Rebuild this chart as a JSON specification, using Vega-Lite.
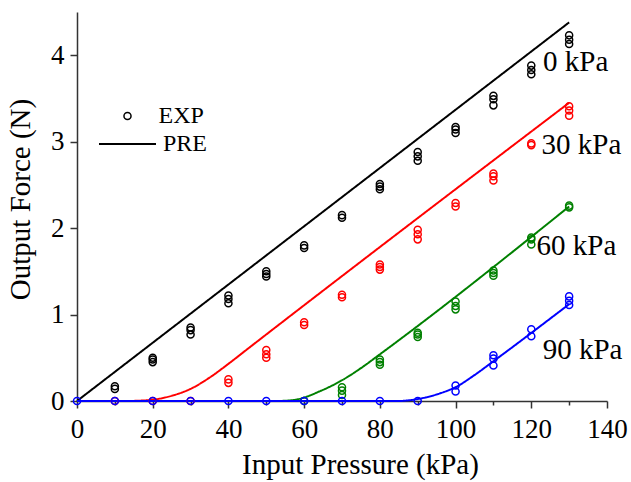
{
  "$schema": "https://vega.github.io/schema/vega-lite/v6.json",
  "width": 530,
  "height": 389,
  "autosize": {"type": "none"},
  "padding": {"left": 77, "top": 12, "right": 24, "bottom": 81},
  "background": "white",
  "config": {
    "view": {"stroke": null},
    "axis": {
      "labelFont": "Liberation Serif",
      "titleFont": "Liberation Serif",
      "labelFontSize": 27,
      "titleFontSize": 29,
      "titleFontWeight": "normal",
      "labelColor": "black",
      "titleColor": "black",
      "domainColor": "#333333",
      "domainWidth": 1.5,
      "tickColor": "#333333",
      "tickWidth": 1.5,
      "grid": false,
      "labelOverlap": false,
      "labelFlush": false
    }
  },
  "datasets": {
    "pre": [
      {"series": "0 kPa", "kind": "PRE", "p": 0, "f": 0},
      {"series": "0 kPa", "kind": "PRE", "p": 130, "f": 4.38},
      {"series": "30 kPa", "kind": "PRE", "p": 14, "f": 0},
      {"series": "30 kPa", "kind": "PRE", "p": 20, "f": 0.015},
      {"series": "30 kPa", "kind": "PRE", "p": 25, "f": 0.06},
      {"series": "30 kPa", "kind": "PRE", "p": 30, "f": 0.14},
      {"series": "30 kPa", "kind": "PRE", "p": 35, "f": 0.27},
      {"series": "30 kPa", "kind": "PRE", "p": 40, "f": 0.43},
      {"series": "30 kPa", "kind": "PRE", "p": 45, "f": 0.6},
      {"series": "30 kPa", "kind": "PRE", "p": 130, "f": 3.45},
      {"series": "60 kPa", "kind": "PRE", "p": 53, "f": 0},
      {"series": "60 kPa", "kind": "PRE", "p": 57, "f": 0.01},
      {"series": "60 kPa", "kind": "PRE", "p": 60, "f": 0.04},
      {"series": "60 kPa", "kind": "PRE", "p": 64, "f": 0.11},
      {"series": "60 kPa", "kind": "PRE", "p": 67, "f": 0.17},
      {"series": "60 kPa", "kind": "PRE", "p": 70, "f": 0.24},
      {"series": "60 kPa", "kind": "PRE", "p": 75, "f": 0.38},
      {"series": "60 kPa", "kind": "PRE", "p": 80, "f": 0.54},
      {"series": "60 kPa", "kind": "PRE", "p": 130, "f": 2.25},
      {"series": "90 kPa", "kind": "PRE", "p": 0, "f": 0},
      {"series": "90 kPa", "kind": "PRE", "p": 85, "f": 0},
      {"series": "90 kPa", "kind": "PRE", "p": 88, "f": 0.01},
      {"series": "90 kPa", "kind": "PRE", "p": 92, "f": 0.04},
      {"series": "90 kPa", "kind": "PRE", "p": 96, "f": 0.09},
      {"series": "90 kPa", "kind": "PRE", "p": 100, "f": 0.16},
      {"series": "90 kPa", "kind": "PRE", "p": 105, "f": 0.3},
      {"series": "90 kPa", "kind": "PRE", "p": 110, "f": 0.46},
      {"series": "90 kPa", "kind": "PRE", "p": 130, "f": 1.12}
    ],
    "exp": [
      {"series": "0 kPa", "kind": "EXP", "p": 10, "f": 0.14},
      {"series": "0 kPa", "kind": "EXP", "p": 10, "f": 0.17},
      {"series": "0 kPa", "kind": "EXP", "p": 20, "f": 0.45},
      {"series": "0 kPa", "kind": "EXP", "p": 20, "f": 0.48},
      {"series": "0 kPa", "kind": "EXP", "p": 20, "f": 0.5},
      {"series": "0 kPa", "kind": "EXP", "p": 30, "f": 0.77},
      {"series": "0 kPa", "kind": "EXP", "p": 30, "f": 0.82},
      {"series": "0 kPa", "kind": "EXP", "p": 30, "f": 0.85},
      {"series": "0 kPa", "kind": "EXP", "p": 40, "f": 1.13},
      {"series": "0 kPa", "kind": "EXP", "p": 40, "f": 1.18},
      {"series": "0 kPa", "kind": "EXP", "p": 40, "f": 1.22},
      {"series": "0 kPa", "kind": "EXP", "p": 50, "f": 1.44},
      {"series": "0 kPa", "kind": "EXP", "p": 50, "f": 1.47},
      {"series": "0 kPa", "kind": "EXP", "p": 50, "f": 1.5},
      {"series": "0 kPa", "kind": "EXP", "p": 60, "f": 1.77},
      {"series": "0 kPa", "kind": "EXP", "p": 60, "f": 1.8},
      {"series": "0 kPa", "kind": "EXP", "p": 70, "f": 2.12},
      {"series": "0 kPa", "kind": "EXP", "p": 70, "f": 2.15},
      {"series": "0 kPa", "kind": "EXP", "p": 80, "f": 2.45},
      {"series": "0 kPa", "kind": "EXP", "p": 80, "f": 2.48},
      {"series": "0 kPa", "kind": "EXP", "p": 80, "f": 2.51},
      {"series": "0 kPa", "kind": "EXP", "p": 90, "f": 2.78},
      {"series": "0 kPa", "kind": "EXP", "p": 90, "f": 2.83},
      {"series": "0 kPa", "kind": "EXP", "p": 90, "f": 2.88},
      {"series": "0 kPa", "kind": "EXP", "p": 100, "f": 3.1},
      {"series": "0 kPa", "kind": "EXP", "p": 100, "f": 3.14},
      {"series": "0 kPa", "kind": "EXP", "p": 100, "f": 3.17},
      {"series": "0 kPa", "kind": "EXP", "p": 110, "f": 3.42},
      {"series": "0 kPa", "kind": "EXP", "p": 110, "f": 3.49},
      {"series": "0 kPa", "kind": "EXP", "p": 110, "f": 3.53},
      {"series": "0 kPa", "kind": "EXP", "p": 120, "f": 3.78},
      {"series": "0 kPa", "kind": "EXP", "p": 120, "f": 3.83},
      {"series": "0 kPa", "kind": "EXP", "p": 120, "f": 3.88},
      {"series": "0 kPa", "kind": "EXP", "p": 130, "f": 4.13},
      {"series": "0 kPa", "kind": "EXP", "p": 130, "f": 4.18},
      {"series": "0 kPa", "kind": "EXP", "p": 130, "f": 4.23},
      {"series": "30 kPa", "kind": "EXP", "p": 10, "f": 0},
      {"series": "30 kPa", "kind": "EXP", "p": 20, "f": 0},
      {"series": "30 kPa", "kind": "EXP", "p": 30, "f": 0},
      {"series": "30 kPa", "kind": "EXP", "p": 40, "f": 0.21},
      {"series": "30 kPa", "kind": "EXP", "p": 40, "f": 0.25},
      {"series": "30 kPa", "kind": "EXP", "p": 50, "f": 0.5},
      {"series": "30 kPa", "kind": "EXP", "p": 50, "f": 0.54},
      {"series": "30 kPa", "kind": "EXP", "p": 50, "f": 0.59},
      {"series": "30 kPa", "kind": "EXP", "p": 60, "f": 0.88},
      {"series": "30 kPa", "kind": "EXP", "p": 60, "f": 0.91},
      {"series": "30 kPa", "kind": "EXP", "p": 70, "f": 1.2},
      {"series": "30 kPa", "kind": "EXP", "p": 70, "f": 1.23},
      {"series": "30 kPa", "kind": "EXP", "p": 80, "f": 1.52},
      {"series": "30 kPa", "kind": "EXP", "p": 80, "f": 1.55},
      {"series": "30 kPa", "kind": "EXP", "p": 80, "f": 1.58},
      {"series": "30 kPa", "kind": "EXP", "p": 90, "f": 1.87},
      {"series": "30 kPa", "kind": "EXP", "p": 90, "f": 1.93},
      {"series": "30 kPa", "kind": "EXP", "p": 90, "f": 1.98},
      {"series": "30 kPa", "kind": "EXP", "p": 100, "f": 2.25},
      {"series": "30 kPa", "kind": "EXP", "p": 100, "f": 2.29},
      {"series": "30 kPa", "kind": "EXP", "p": 110, "f": 2.55},
      {"series": "30 kPa", "kind": "EXP", "p": 110, "f": 2.6},
      {"series": "30 kPa", "kind": "EXP", "p": 110, "f": 2.63},
      {"series": "30 kPa", "kind": "EXP", "p": 120, "f": 2.96},
      {"series": "30 kPa", "kind": "EXP", "p": 120, "f": 2.98},
      {"series": "30 kPa", "kind": "EXP", "p": 130, "f": 3.3},
      {"series": "30 kPa", "kind": "EXP", "p": 130, "f": 3.36},
      {"series": "30 kPa", "kind": "EXP", "p": 130, "f": 3.41},
      {"series": "60 kPa", "kind": "EXP", "p": 60, "f": 0},
      {"series": "60 kPa", "kind": "EXP", "p": 70, "f": 0.07},
      {"series": "60 kPa", "kind": "EXP", "p": 70, "f": 0.12},
      {"series": "60 kPa", "kind": "EXP", "p": 70, "f": 0.16},
      {"series": "60 kPa", "kind": "EXP", "p": 80, "f": 0.42},
      {"series": "60 kPa", "kind": "EXP", "p": 80, "f": 0.45},
      {"series": "60 kPa", "kind": "EXP", "p": 80, "f": 0.48},
      {"series": "60 kPa", "kind": "EXP", "p": 90, "f": 0.74},
      {"series": "60 kPa", "kind": "EXP", "p": 90, "f": 0.77},
      {"series": "60 kPa", "kind": "EXP", "p": 90, "f": 0.79},
      {"series": "60 kPa", "kind": "EXP", "p": 100, "f": 1.06},
      {"series": "60 kPa", "kind": "EXP", "p": 100, "f": 1.1},
      {"series": "60 kPa", "kind": "EXP", "p": 100, "f": 1.15},
      {"series": "60 kPa", "kind": "EXP", "p": 110, "f": 1.45},
      {"series": "60 kPa", "kind": "EXP", "p": 110, "f": 1.48},
      {"series": "60 kPa", "kind": "EXP", "p": 110, "f": 1.51},
      {"series": "60 kPa", "kind": "EXP", "p": 120, "f": 1.81},
      {"series": "60 kPa", "kind": "EXP", "p": 120, "f": 1.87},
      {"series": "60 kPa", "kind": "EXP", "p": 120, "f": 1.89},
      {"series": "60 kPa", "kind": "EXP", "p": 130, "f": 2.24},
      {"series": "60 kPa", "kind": "EXP", "p": 130, "f": 2.26},
      {"series": "90 kPa", "kind": "EXP", "p": 0, "f": 0},
      {"series": "90 kPa", "kind": "EXP", "p": 10, "f": 0},
      {"series": "90 kPa", "kind": "EXP", "p": 20, "f": 0},
      {"series": "90 kPa", "kind": "EXP", "p": 30, "f": 0},
      {"series": "90 kPa", "kind": "EXP", "p": 40, "f": 0},
      {"series": "90 kPa", "kind": "EXP", "p": 50, "f": 0},
      {"series": "90 kPa", "kind": "EXP", "p": 60, "f": 0},
      {"series": "90 kPa", "kind": "EXP", "p": 70, "f": 0},
      {"series": "90 kPa", "kind": "EXP", "p": 80, "f": 0},
      {"series": "90 kPa", "kind": "EXP", "p": 90, "f": 0},
      {"series": "90 kPa", "kind": "EXP", "p": 100, "f": 0.11},
      {"series": "90 kPa", "kind": "EXP", "p": 100, "f": 0.18},
      {"series": "90 kPa", "kind": "EXP", "p": 110, "f": 0.41},
      {"series": "90 kPa", "kind": "EXP", "p": 110, "f": 0.49},
      {"series": "90 kPa", "kind": "EXP", "p": 110, "f": 0.53},
      {"series": "90 kPa", "kind": "EXP", "p": 120, "f": 0.75},
      {"series": "90 kPa", "kind": "EXP", "p": 120, "f": 0.83},
      {"series": "90 kPa", "kind": "EXP", "p": 130, "f": 1.11},
      {"series": "90 kPa", "kind": "EXP", "p": 130, "f": 1.16},
      {"series": "90 kPa", "kind": "EXP", "p": 130, "f": 1.21}
    ],
    "labels": [
      {"label": "0 kPa", "p": 123.1, "f": 3.82},
      {"label": "30 kPa", "p": 122.7, "f": 2.86},
      {"label": "60 kPa", "p": 121.4, "f": 1.69},
      {"label": "90 kPa", "p": 123.0, "f": 0.49}
    ]
  },
  "encoding": {
    "x": {
      "field": "p",
      "type": "quantitative",
      "scale": {"domain": [0, 140], "nice": false},
      "axis": {
        "title": "Input Pressure (kPa)",
        "values": [0, 10, 20, 30, 40, 50, 60, 70, 80, 90, 100, 110, 120, 130, 140],
        "format": "d",
        "labelExpr": "datum.value % 20 === 0 ? datum.label : ''",
        "tickSize": {"condition": {"test": "datum.value % 20 !== 0", "value": 4}, "value": 7},
        "labelPadding": 8,
        "titlePadding": 8,
        "titleX": 283
      }
    },
    "y": {
      "field": "f",
      "type": "quantitative",
      "scale": {"domain": [0, 4.5], "nice": false},
      "axis": {
        "title": "Output Force (N)",
        "values": [0, 0.5, 1, 1.5, 2, 2.5, 3, 3.5, 4, 4.5],
        "format": "d",
        "labelExpr": "datum.value % 1 === 0 ? format(datum.value, 'd') : ''",
        "tickSize": {"condition": {"test": "datum.value % 1 !== 0", "value": 4}, "value": 7},
        "labelPadding": 6,
        "titlePadding": 15,
        "titleY": 187
      }
    }
  },
  "layer": [
    {
      "data": {"name": "pre"},
      "mark": {"type": "line", "strokeWidth": 2, "interpolate": "monotone"},
      "encoding": {
        "color": {
          "field": "series",
          "type": "nominal",
          "scale": {"domain": ["0 kPa", "30 kPa", "60 kPa", "90 kPa"], "range": ["#000000", "#ff0000", "#008000", "#0000ff"]},
          "legend": null
        },
        "strokeDash": {
          "field": "kind",
          "type": "nominal",
          "scale": {"domain": ["PRE"], "range": [[1, 0]]},
          "legend": {
            "orient": "none",
            "legendX": 21,
            "legendY": 102.5,
            "title": null,
            "padding": 0,
            "symbolType": "stroke",
            "symbolSize": 3249,
            "symbolStrokeColor": "black",
            "symbolStrokeWidth": 2,
            "labelFont": "Liberation Serif",
            "labelFontSize": 24,
            "labelColor": "black",
            "labelOffset": 6
          }
        }
      }
    },
    {
      "data": {"name": "exp"},
      "mark": {"type": "point", "filled": false, "strokeWidth": 1.5, "size": 50, "opacity": 1},
      "encoding": {
        "color": {"field": "series", "type": "nominal", "legend": null},
        "shape": {
          "field": "kind",
          "type": "nominal",
          "scale": {"domain": ["EXP"], "range": ["circle"]},
          "legend": {
            "orient": "none",
            "legendX": 38.5,
            "legendY": 92,
            "title": null,
            "padding": 0,
            "symbolType": "circle",
            "symbolSize": 50,
            "symbolStrokeColor": "black",
            "symbolFillColor": "transparent",
            "symbolStrokeWidth": 1.5,
            "labelFont": "Liberation Serif",
            "labelFontSize": 24,
            "labelColor": "black",
            "labelOffset": 19
          }
        }
      }
    },
    {
      "data": {"name": "labels"},
      "mark": {"type": "text", "align": "left", "baseline": "alphabetic", "font": "Liberation Serif", "fontSize": 29, "color": "black"},
      "encoding": {
        "text": {"field": "label", "type": "nominal"}
      }
    }
  ]
}
